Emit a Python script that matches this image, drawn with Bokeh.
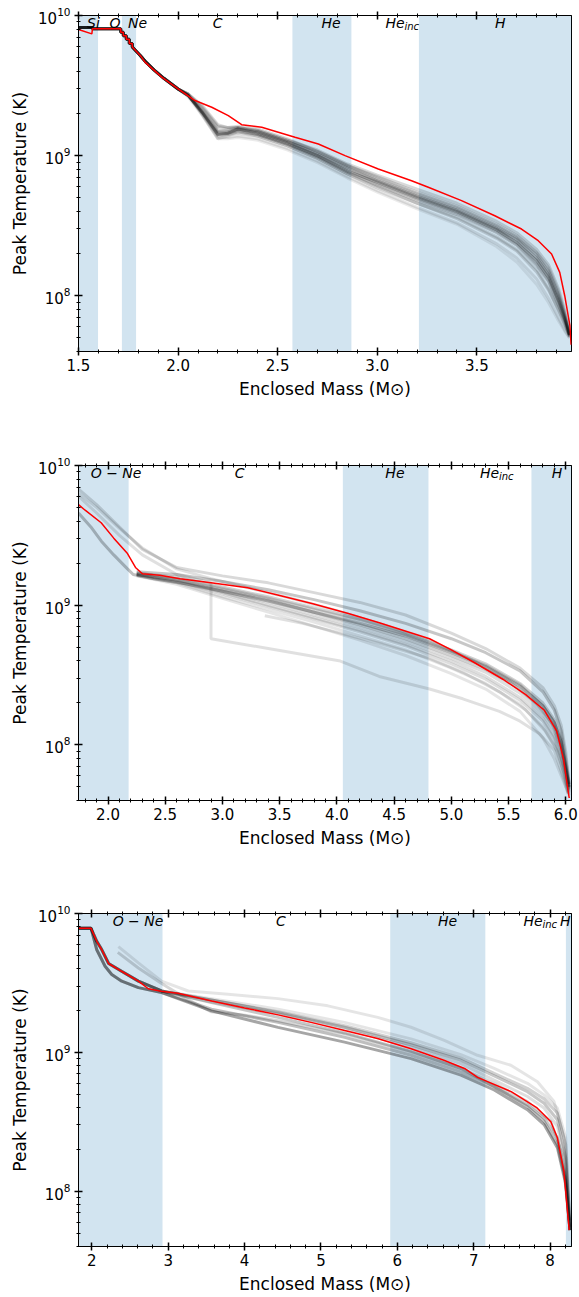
from bokeh.plotting import figure
from bokeh.models import (BoxAnnotation, Label, LinearAxis, SingleIntervalTicker,
                          FixedTicker, Range1d, PrintfTickFormatter, CustomJSTickFormatter)
from bokeh.layouts import column
from bokeh.embed import file_html
from bokeh.resources import INLINE

FONT = "DejaVu Sans"
BAND = "#1f77b4"

# ---------------- Panel 1 ----------------
P1_XLIM = (1.5, 3.975)
P1_BANDS = [(1.5, 1.598), (1.718, 1.789), (2.574, 2.870), (3.209, 3.975)]
P1_LABELS = [("Si", 1.575), ("O", 1.683), ("Ne", 1.796), ("C", 2.198), ("He", 2.768), ("H", 3.618)]
P1_INC = 3.041

P1_HEAD_M = [1.50, 1.57, 1.57, 1.70, 1.712, 1.712, 1.725, 1.725, 1.74, 1.74, 1.755, 1.755,
             1.77, 1.77, 1.79, 1.81, 1.84, 1.88, 1.93, 2.00]
P1_HEAD_T = [9.915, 9.915, 9.905, 9.905, 9.905, 9.88, 9.88, 9.855, 9.855, 9.83, 9.83, 9.80,
             9.80, 9.775, 9.745, 9.715, 9.665, 9.61, 9.55, 9.475]
P1_TAIL_M = [2.05, 2.12, 2.2, 2.25, 2.3, 2.4, 2.55, 2.7, 2.85, 3.0, 3.2, 3.4, 3.6, 3.7, 3.8,
             3.86, 3.91, 3.94, 3.965]
P1_TAILS = [
    [9.43, 9.31, 9.15, 9.16, 9.19, 9.16, 9.09, 9.00, 8.89, 8.81, 8.70, 8.60, 8.47, 8.38, 8.25, 8.13, 7.96, 7.84, 7.72],
    [9.43, 9.32, 9.17, 9.17, 9.19, 9.17, 9.10, 9.01, 8.91, 8.82, 8.71, 8.61, 8.48, 8.40, 8.27, 8.15, 7.98, 7.85, 7.72],
    [9.44, 9.36, 9.22, 9.20, 9.20, 9.18, 9.11, 9.04, 8.94, 8.86, 8.76, 8.66, 8.53, 8.45, 8.33, 8.22, 8.05, 7.90, 7.73],
    [9.44, 9.35, 9.21, 9.20, 9.21, 9.19, 9.12, 9.03, 8.93, 8.85, 8.74, 8.64, 8.51, 8.43, 8.31, 8.20, 8.03, 7.88, 7.72],
    [9.43, 9.30, 9.13, 9.13, 9.14, 9.12, 9.05, 8.96, 8.85, 8.75, 8.63, 8.52, 8.37, 8.27, 8.12, 7.98, 7.84, 7.76, 7.70],
    [9.43, 9.30, 9.14, 9.15, 9.16, 9.14, 9.07, 8.98, 8.87, 8.78, 8.66, 8.56, 8.42, 8.33, 8.19, 8.05, 7.90, 7.80, 7.71],
    [9.43, 9.31, 9.16, 9.16, 9.18, 9.15, 9.08, 8.99, 8.88, 8.79, 8.68, 8.58, 8.45, 8.36, 8.22, 8.10, 7.93, 7.82, 7.71],
    [9.44, 9.29, 9.12, 9.14, 9.17, 9.15, 9.08, 9.00, 8.90, 8.80, 8.69, 8.59, 8.46, 8.37, 8.23, 8.11, 7.94, 7.83, 7.72],
    [9.43, 9.33, 9.18, 9.18, 9.20, 9.17, 9.10, 9.02, 8.92, 8.83, 8.72, 8.62, 8.49, 8.41, 8.29, 8.17, 8.00, 7.86, 7.72],
    [9.44, 9.34, 9.20, 9.19, 9.20, 9.18, 9.11, 9.03, 8.93, 8.84, 8.73, 8.63, 8.50, 8.42, 8.30, 8.18, 8.01, 7.87, 7.73],
    [9.42, 9.29, 9.12, 9.12, 9.13, 9.11, 9.04, 8.95, 8.84, 8.74, 8.62, 8.51, 8.35, 8.24, 8.08, 7.95, 7.82, 7.75, 7.70],
    [9.43, 9.31, 9.15, 9.15, 9.17, 9.14, 9.07, 8.98, 8.87, 8.77, 8.66, 8.55, 8.41, 8.32, 8.17, 8.04, 7.89, 7.80, 7.71],
]
P1_ALPHAS = [0.3, 0.25, 0.15, 0.15, 0.1, 0.12, 0.2, 0.1, 0.15, 0.14, 0.08, 0.15]
P1_RED_M = [1.5, 1.567, 1.57, 1.70, 1.712, 1.712, 1.725, 1.725, 1.74, 1.74, 1.755, 1.755, 1.77, 1.77,
            1.79, 1.81, 1.834, 1.918, 2.0, 2.085, 2.169, 2.252, 2.319, 2.42, 2.503, 2.587, 2.704,
            2.838, 3.005, 3.172, 3.256, 3.423, 3.59, 3.724, 3.808, 3.875, 3.916, 3.941, 3.967, 3.973]
P1_RED_T = [9.90, 9.869, 9.905, 9.905, 9.905, 9.88, 9.88, 9.855, 9.855, 9.83, 9.83, 9.80, 9.80, 9.775,
            9.745, 9.715, 9.667, 9.56, 9.476, 9.393, 9.345, 9.286, 9.221, 9.202, 9.167, 9.131, 9.083,
            9.0, 8.905, 8.821, 8.774, 8.679, 8.571, 8.476, 8.393, 8.298, 8.167, 8.0, 7.786, 7.65]

# ---------------- Panel 2 ----------------
P2_XLIM = (1.742, 6.05)
P2_BANDS = [(1.742, 2.18), (4.052, 4.80), (5.70, 6.05)]
P2_LABELS = [("O − Ne", 2.07), ("C", 3.15), ("He", 4.507), ("H", 5.924)]
P2_INC = 5.25

P2_LONG = [
    ([1.742, 1.9, 2.1, 2.3, 2.6, 3.0, 3.4, 3.8, 4.2, 4.6, 5.0, 5.3, 5.6, 5.8, 5.9, 5.96, 6.0, 6.03],
     [9.83, 9.72, 9.56, 9.40, 9.27, 9.21, 9.16, 9.09, 9.02, 8.93, 8.80, 8.69, 8.55, 8.41, 8.28, 8.14, 7.95, 7.72]),
    ([1.742, 1.9, 2.1, 2.3, 2.6, 2.9, 3.2, 3.6, 4.0, 4.4, 4.8, 5.2, 5.5, 5.75, 5.88, 5.95, 6.0, 6.03],
     [9.80, 9.70, 9.55, 9.41, 9.26, 9.19, 9.13, 9.05, 8.96, 8.86, 8.75, 8.60, 8.46, 8.29, 8.15, 8.00, 7.82, 7.68]),
    ([1.742, 1.9, 2.1, 2.3, 2.6, 2.9, 2.9, 3.4, 4.03, 4.37, 4.81, 5.1, 5.42, 5.6, 5.77, 5.9, 5.98, 6.02],
     [9.78, 9.66, 9.50, 9.36, 9.22, 9.16, 8.76, 8.69, 8.60, 8.49, 8.40, 8.33, 8.24, 8.17, 8.08, 7.96, 7.76, 7.65]),
    ([3.37, 3.7, 4.03, 4.4, 4.81, 5.1, 5.42, 5.65, 5.82, 5.93, 5.99, 6.02],
     [8.925, 8.87, 8.80, 8.72, 8.62, 8.52, 8.38, 8.25, 8.10, 7.95, 7.78, 7.66]),
    ([1.742, 1.85, 1.94, 2.05, 2.17, 2.22, 2.4, 2.7, 3.0, 3.4, 3.8, 4.2, 4.6, 5.0, 5.3, 5.6, 5.8, 5.9, 5.96, 6.0, 6.03],
     [9.66, 9.56, 9.46, 9.36, 9.26, 9.22, 9.19, 9.15, 9.10, 9.03, 8.95, 8.87, 8.78, 8.66, 8.56, 8.42, 8.28, 8.16, 8.02, 7.84, 7.70]),
]
P2_LONG_ALPHAS = [0.15, 0.12, 0.12, 0.12, 0.25]
P2_TAIL_M = [2.25, 2.6, 3.0, 3.4, 3.8, 4.2, 4.6, 5.0, 5.3, 5.6, 5.8, 5.9, 5.96, 6.0, 6.03]
P2_TAILS = [
    [9.23, 9.20, 9.13, 9.06, 8.98, 8.90, 8.80, 8.68, 8.58, 8.44, 8.30, 8.18, 8.04, 7.86, 7.70],
    [9.22, 9.18, 9.10, 9.02, 8.93, 8.84, 8.74, 8.62, 8.52, 8.37, 8.22, 8.10, 7.96, 7.80, 7.68],
    [9.22, 9.17, 9.08, 8.99, 8.90, 8.81, 8.71, 8.58, 8.47, 8.32, 8.17, 8.04, 7.90, 7.76, 7.66],
    [9.21, 9.16, 9.06, 8.97, 8.88, 8.78, 8.68, 8.55, 8.44, 8.29, 8.13, 8.00, 7.86, 7.73, 7.65],
    [9.22, 9.18, 9.11, 9.04, 8.95, 8.86, 8.76, 8.64, 8.54, 8.40, 8.25, 8.13, 7.99, 7.82, 7.69],
    [9.21, 9.15, 9.05, 8.95, 8.85, 8.75, 8.64, 8.51, 8.40, 8.24, 8.05, 7.90, 7.78, 7.70, 7.64],
    [9.23, 9.19, 9.12, 9.05, 8.97, 8.89, 8.79, 8.67, 8.57, 8.43, 8.28, 8.16, 8.02, 7.85, 7.70],
    [9.22, 9.17, 9.09, 9.00, 8.91, 8.82, 8.72, 8.60, 8.49, 8.34, 8.19, 8.06, 7.92, 7.78, 7.67],
    [9.24, 9.22, 9.17, 9.11, 9.04, 8.96, 8.87, 8.76, 8.66, 8.53, 8.38, 8.25, 8.10, 7.90, 7.72],
]
P2_TAIL_ALPHAS = [0.18, 0.13, 0.13, 0.1, 0.18, 0.1, 0.15, 0.13, 0.22]
P2_RED_M = [1.742, 1.80, 1.94, 2.05, 2.17, 2.24, 2.30, 2.45, 2.63, 2.9, 3.22, 3.5, 3.79, 4.1, 4.37,
            4.81, 5.0, 5.2, 5.45, 5.65, 5.81, 5.92, 5.98, 6.01, 6.03]
P2_RED_T = [9.72, 9.68, 9.59, 9.48, 9.37, 9.27, 9.225, 9.215, 9.19, 9.16, 9.125, 9.07, 9.01, 8.94,
            8.875, 8.76, 8.68, 8.59, 8.47, 8.36, 8.25, 8.10, 7.90, 7.73, 7.62]

# ---------------- Panel 3 ----------------
P3_XLIM = (1.826, 8.28)
P3_BANDS = [(1.826, 2.926), (5.907, 7.152), (8.207, 8.28)]
P3_LABELS = [("O − Ne", 2.605), ("C", 4.477), ("He", 6.656)]
P3_H_RIGHT = 8.28
P3_INC = 7.65

P3_RED_M = [1.826, 1.99, 2.065, 2.13, 2.22, 2.39, 2.61, 2.74, 2.91, 3.13, 3.57, 4.0, 4.44, 4.87,
            5.31, 5.74, 6.18, 6.61, 6.88, 7.05, 7.49, 7.83, 8.01, 8.095, 8.18, 8.25]
P3_RED_T = [9.893, 9.893, 9.80, 9.74, 9.64, 9.584, 9.513, 9.458, 9.44, 9.425, 9.37, 9.32, 9.27, 9.216,
            9.157, 9.10, 9.026, 8.943, 8.884, 8.82, 8.717, 8.60, 8.50, 8.385, 8.147, 7.72]
P3_LOW_M = [1.826, 1.991, 2.065, 2.174, 2.261, 2.392, 2.61, 2.914, 3.567, 4.438, 5.309, 6.179,
            6.832, 7.268, 7.703, 7.921, 8.095, 8.204, 8.26]
P3_LOW = [
    [9.893, 9.893, 9.739, 9.62, 9.561, 9.513, 9.466, 9.43, 9.299, 9.18, 9.074, 8.955, 8.836, 8.729, 8.587, 8.48, 8.314, 8.052, 7.72],
    [9.893, 9.893, 9.739, 9.62, 9.561, 9.513, 9.466, 9.43, 9.311, 9.216, 9.109, 8.979, 8.86, 8.753, 8.61, 8.504, 8.337, 8.076, 7.72],
]
P3_LOW_ALPHAS = [0.35, 0.25]
P3_UP = [
    ([2.348, 2.61, 2.914, 3.263, 3.785, 4.438, 5.091, 5.744, 6.179, 6.615, 7.05, 7.486, 7.834, 8.051, 8.182, 8.26],
     [9.762, 9.644, 9.513, 9.442, 9.418, 9.387, 9.335, 9.252, 9.181, 9.086, 8.979, 8.907, 8.789, 8.646, 8.385, 7.79]),
    ([2.34, 2.61, 2.914, 3.263, 3.567, 4.003, 4.438, 5.309, 6.179, 6.832, 7.268, 7.703, 8.008, 8.16, 8.247],
     [9.72, 9.608, 9.496, 9.378, 9.292, 9.268, 9.228, 9.133, 9.002, 8.884, 8.777, 8.646, 8.504, 8.266, 7.79]),
]
P3_UP_ALPHAS = [0.1, 0.16]
P3_MID_HEAD_M = [1.826, 1.99, 2.065, 2.13, 2.22, 2.39, 2.61, 2.914]
P3_MID_HEAD_T = [9.893, 9.893, 9.80, 9.74, 9.64, 9.584, 9.513, 9.442]
P3_MID_M = [3.567, 4.438, 5.309, 6.179, 6.832, 7.268, 7.703, 7.921, 8.095, 8.204, 8.26]
P3_MID = [
    [9.378, 9.287, 9.181, 9.055, 8.943, 8.831, 8.717, 8.634, 8.515, 8.242, 7.72],
    [9.378, 9.292, 9.192, 9.069, 8.96, 8.848, 8.741, 8.665, 8.563, 8.337, 7.743],
    [9.359, 9.252, 9.14, 9.007, 8.884, 8.753, 8.622, 8.527, 8.385, 8.10, 7.72],
    [9.363, 9.276, 9.169, 9.038, 8.919, 8.80, 8.682, 8.599, 8.468, 8.195, 7.72],
    [9.387, 9.311, 9.216, 9.097, 8.983, 8.884, 8.777, 8.694, 8.599, 8.385, 7.79],
]
P3_MID_ALPHAS = [0.22, 0.18, 0.22, 0.13, 0.1]


def tT(vals):
    return [10 ** v for v in vals]


def style_axis(ax, font_size="15px"):
    ax.axis_line_color = "black"
    ax.major_tick_line_color = "black"
    ax.minor_tick_line_color = "black"
    ax.major_tick_in = 4
    ax.major_tick_out = 4
    ax.minor_tick_in = 2
    ax.minor_tick_out = 2
    ax.major_tick_line_width = 1.5
    ax.minor_tick_line_width = 1
    ax.major_label_text_font = FONT
    ax.major_label_text_font_size = font_size
    ax.major_label_text_color = "black"
    ax.axis_label_text_font = FONT
    ax.axis_label_text_font_size = "17px"
    ax.axis_label_text_font_style = "normal"
    ax.axis_label_text_color = "black"


def zone_label(p, x, txt, align="center", size="14px", x_off=0, y_off=1):
    p.add_layout(Label(x=x, y=1e10, x_offset=x_off, y_offset=y_off, text=txt, text_align=align,
                       text_baseline="top", text_font=FONT, text_font_style="italic",
                       text_font_size=size, text_color="black"))


def panel(xlim, interval, fmt, bands, labels, inc_x, height, top, bottom):
    p = figure(width=579, height=height, x_range=Range1d(*xlim), y_range=Range1d(4e7, 1e10),
               y_axis_type="log", output_backend="svg", toolbar_location=None,
               min_border_left=78, min_border_right=8, min_border_top=top,
               min_border_bottom=bottom)
    p.grid.visible = False
    p.outline_line_color = "black"
    p.outline_line_width = 1
    p.background_fill_color = "white"
    p.border_fill_color = "white"

    xax = p.xaxis[0]
    xax.ticker = SingleIntervalTicker(interval=interval, num_minor_ticks=5)
    xax.formatter = PrintfTickFormatter(format=fmt)
    style_axis(xax)
    xax.major_label_standoff = 3
    xax.axis_label = "Enclosed Mass (M⊙)"

    yax = p.yaxis[0]
    minors = [k * 10 ** e for e in (7, 8, 9) for k in range(2, 10)]
    yax.ticker = FixedTicker(ticks=[1e8, 1e9, 1e10], minor_ticks=minors)
    style_axis(yax)
    yax.major_label_standoff = 4
    yax.axis_label = "Peak Temperature (K)"

    top_ax = LinearAxis(ticker=SingleIntervalTicker(interval=interval, num_minor_ticks=5),
                        formatter=CustomJSTickFormatter(code="return ''"))
    style_axis(top_ax)
    top_ax.major_label_standoff = 0
    p.add_layout(top_ax, "above")

    for l, r in bands:
        p.add_layout(BoxAnnotation(left=l, right=r, fill_color=BAND, fill_alpha=0.2,
                                   line_alpha=0, level="underlay"))

    for txt, x in labels:
        zone_label(p, x, txt)
    zone_label(p, inc_x, "He", align="left")
    zone_label(p, inc_x, "inc", align="left", size="10px", x_off=19, y_off=-5)
    return p


def gray(p, m, t, a):
    p.line(m, tT(t), line_color="black", line_alpha=a, line_width=3)


# Panel 1
p1 = panel(P1_XLIM, 0.5, "%.1f", P1_BANDS, P1_LABELS, P1_INC, 451, 15, 100)
for tail, a in zip(P1_TAILS, P1_ALPHAS):
    gray(p1, P1_HEAD_M + P1_TAIL_M, P1_HEAD_T + tail, a)
p1.line(P1_RED_M, tT(P1_RED_T), line_color="red", line_width=1.5)

# Panel 2
p2 = panel(P2_XLIM, 0.5, "%.1f", P2_BANDS, P2_LABELS, P2_INC, 449, 14, 100)
for (m, t), a in zip(P2_LONG, P2_LONG_ALPHAS):
    gray(p2, m, t, a)
for tail, a in zip(P2_TAILS, P2_TAIL_ALPHAS):
    gray(p2, P2_TAIL_M, tail, a)
p2.line(P2_RED_M, tT(P2_RED_T), line_color="red", line_width=1.5)

# Panel 3
p3 = panel(P3_XLIM, 1, "%d", P3_BANDS, P3_LABELS, P3_INC, 396, 13, 46)
zone_label(p3, P3_H_RIGHT, "H", align="right", x_off=-1)
for t, a in zip(P3_LOW, P3_LOW_ALPHAS):
    gray(p3, P3_LOW_M, t, a)
for (m, t), a in zip(P3_UP, P3_UP_ALPHAS):
    gray(p3, m, t, a)
for t, a in zip(P3_MID, P3_MID_ALPHAS):
    gray(p3, P3_MID_HEAD_M + P3_MID_M, P3_MID_HEAD_T + t, a)
p3.line(P3_RED_M, tT(P3_RED_T), line_color="red", line_width=1.5)

layout = column(p1, p2, p3, spacing=0)
open("out.html", "w").write(file_html(layout, INLINE))
